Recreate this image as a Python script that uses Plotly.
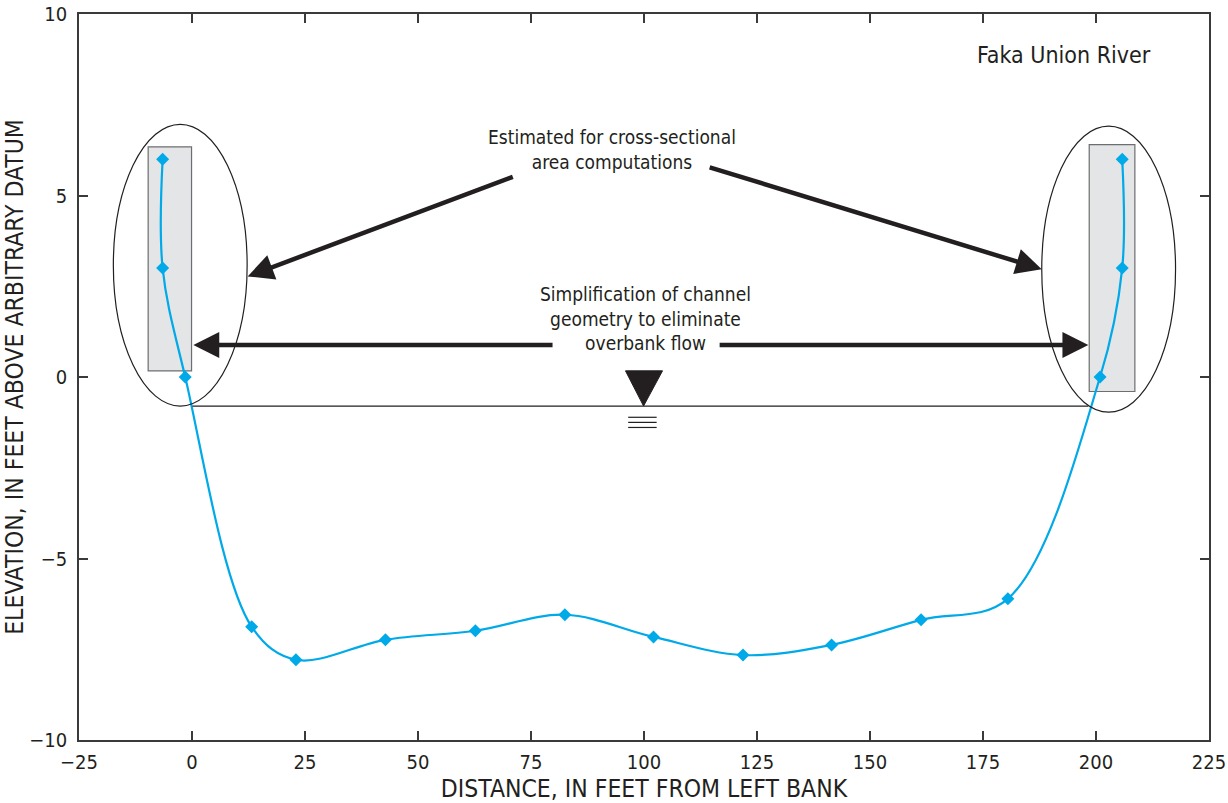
import plotly.graph_objects as go

# Data: cross-section of Faka Union River
distance = [-6.5, -6.5, -1.5, 13.2, 23.0, 42.8, 62.7, 82.5, 102.1, 121.9, 141.5, 161.3, 180.5, 200.9, 205.8, 205.8]
elevation = [6.0, 3.0, 0.0, -6.88, -7.79, -7.24, -6.99, -6.55, -7.16, -7.66, -7.38, -6.69, -6.11, 0.0, 3.0, 6.0]

x_ticks = [-25, 0, 25, 50, 75, 100, 125, 150, 175, 200, 225]
y_ticks = [-10, -5, 0, 5, 10]

FONT = "Liberation Sans Narrow, DejaVu Sans Condensed, Arial Narrow, sans-serif"
AX = "#3a3a3a"
CURVE = "#00a9e8"

fig = go.Figure()

# shapes: shaded estimate boxes, ellipses, water surface line
shapes = [
    dict(type="rect", xref="x", yref="y", x0=-9.7, x1=-0.1, y0=0.17, y1=6.34,
         fillcolor="#e3e5e7", line=dict(color="#6d6e70", width=1.2), layer="below"),
    dict(type="rect", xref="x", yref="y", x0=198.5, x1=208.6, y0=-0.40, y1=6.40,
         fillcolor="#e3e5e7", line=dict(color="#6d6e70", width=1.2), layer="below"),
    dict(type="circle", xref="x", yref="y", x0=-17.4, x1=12.2, y0=-0.80, y1=6.96,
         line=dict(color="#231f20", width=1.2)),
    dict(type="circle", xref="x", yref="y", x0=188.0, x1=217.6, y0=-0.97, y1=6.91,
         line=dict(color="#231f20", width=1.2)),
    dict(type="line", xref="x", yref="y", x0=0.1, x1=198.3, y0=-0.80, y1=-0.80,
         line=dict(color="#231f20", width=1.2)),
    # water-surface symbol
    dict(type="path", xref="x", yref="y", path="M 95.9 0.17 L 104.1 0.17 L 99.9 -0.80 Z",
         fillcolor="#231f20", line=dict(color="#231f20", width=1)),
    dict(type="line", xref="x", yref="y", x0=96.5, x1=102.8, y0=-1.11, y1=-1.11,
         line=dict(color="#231f20", width=1.2)),
    dict(type="line", xref="x", yref="y", x0=96.5, x1=102.8, y0=-1.25, y1=-1.25,
         line=dict(color="#231f20", width=1.2)),
    dict(type="line", xref="x", yref="y", x0=96.5, x1=102.8, y0=-1.39, y1=-1.39,
         line=dict(color="#231f20", width=1.2)),
]

fig.add_trace(go.Scatter(
    x=distance, y=elevation, mode="lines+markers",
    line=dict(color=CURVE, width=2.2, shape="spline", smoothing=1.0),
    marker=dict(symbol="diamond", size=10, color=CURVE),
    hoverinfo="x+y", showlegend=False,
))

arrow_common = dict(xref="x", yref="y", axref="x", ayref="y", text="", showarrow=True,
                    arrowhead=2, arrowsize=1.15, arrowwidth=4.5, arrowcolor="#231f20")
annotations = [
    dict(x=12.3, y=2.77, ax=71.3, ay=5.53, **arrow_common),
    dict(x=188.0, y=2.97, ax=114.2, ay=5.79, **arrow_common),
    dict(x=0.3, y=0.88, ax=80.1, ay=0.88, **arrow_common),
    dict(x=198.3, y=0.88, ax=116.4, ay=0.88, **arrow_common),
    dict(x=93.0, y=6.28, xref="x", yref="y", showarrow=False, align="center",
         text="Estimated for cross-sectional<br>area computations",
         font=dict(family=FONT, size=19, color="#231f20")),
    dict(x=100.3, y=1.6, xref="x", yref="y", showarrow=False, align="center",
         text="Simplification of channel<br>geometry to eliminate<br>overbank flow",
         font=dict(family=FONT, size=19, color="#231f20")),
    dict(x=193.0, y=8.87, xref="x", yref="y", showarrow=False,
         text="Faka Union River",
         font=dict(family=FONT, size=23, color="#231f20")),
]

fig.update_layout(
    width=1228, height=803,
    margin=dict(l=79, r=19, t=14, b=63),
    paper_bgcolor="white", plot_bgcolor="white",
    shapes=shapes, annotations=annotations,
    font=dict(family=FONT, color="#231f20"),
    xaxis=dict(range=[-25, 225], tickvals=x_ticks, ticks="inside", ticklen=9,
               tickwidth=1.5, tickcolor=AX, showline=True, linecolor=AX, linewidth=1.5,
               mirror="ticks", showgrid=False, zeroline=False, automargin=False,
               ticklabelstandoff=3,
               tickfont=dict(family=FONT, size=20, color="#231f20"),
               title=dict(text="DISTANCE, IN FEET FROM LEFT BANK", standoff=10,
                          font=dict(family=FONT, size=24.5, color="#231f20"))),
    yaxis=dict(range=[-10, 10], tickvals=y_ticks, ticks="inside", ticklen=9,
               tickwidth=1.5, tickcolor=AX, showline=True, linecolor=AX, linewidth=1.5,
               mirror="ticks", showgrid=False, zeroline=False, automargin=False,
               ticklabelstandoff=6,
               tickfont=dict(family=FONT, size=20, color="#231f20"),
               title=dict(text="ELEVATION, IN FEET ABOVE ARBITRARY DATUM", standoff=10,
                          font=dict(family=FONT, size=24.5, color="#231f20"))),
)

fig.write_html("out.html")
